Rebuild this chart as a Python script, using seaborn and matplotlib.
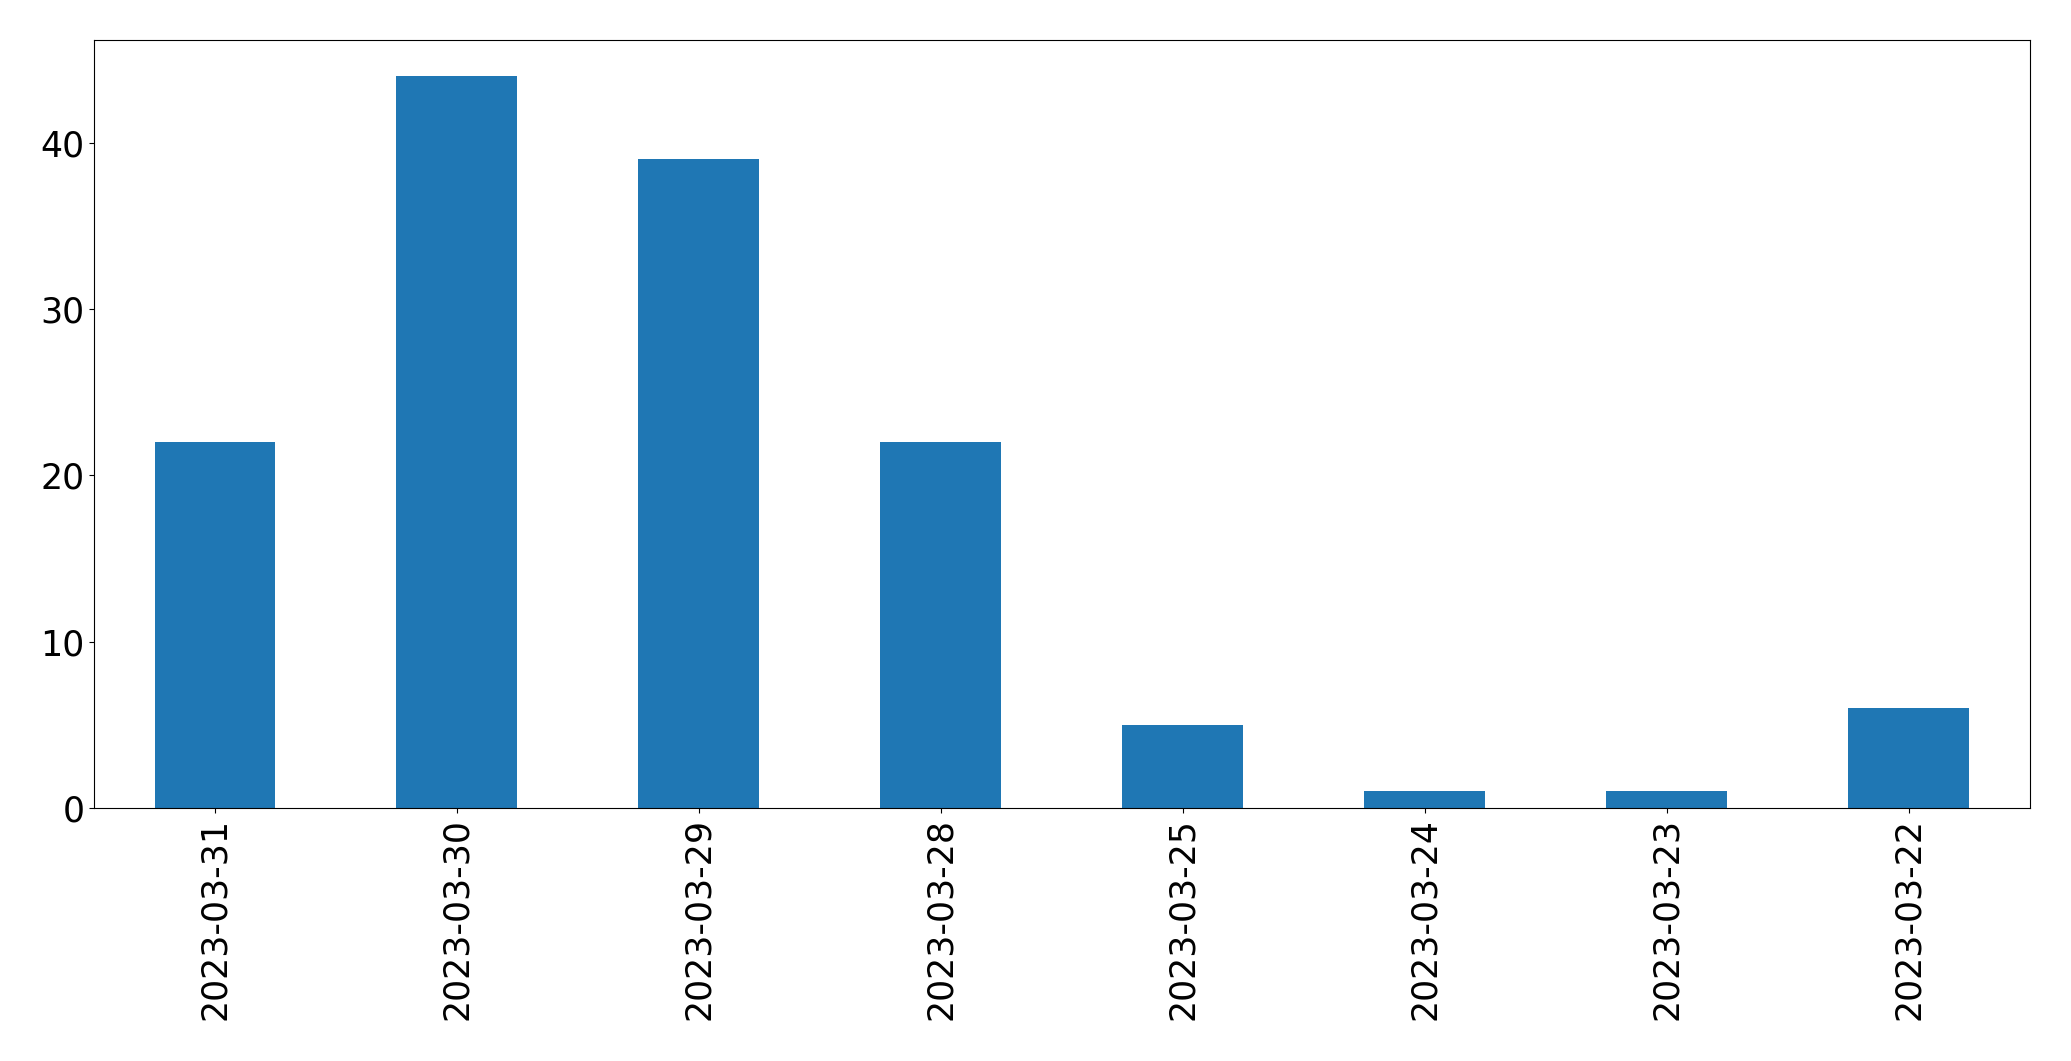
import matplotlib
matplotlib.use("Agg")
import matplotlib.pyplot as plt
import seaborn as sns

# --- data ---
dates = ["2023-03-31", "2023-03-30", "2023-03-29", "2023-03-28",
         "2023-03-25", "2023-03-24", "2023-03-23", "2023-03-22"]
counts = [22, 44, 39, 22, 5, 1, 1, 6]

fig, ax = plt.subplots(figsize=(20.71, 10.61), dpi=100)
fig.subplots_adjust(left=0.0454, right=0.980, top=0.9627, bottom=0.2385)

sns.barplot(x=dates, y=counts, ax=ax, color="#1f77b4", saturation=1,
            width=0.5, order=dates, linewidth=0)

ax.set_xlim(-0.5, len(dates) - 0.5)
ax.set_yticks([0, 10, 20, 30, 40])
ax.tick_params(axis="both", labelsize=25)
ax.tick_params(axis="x", labelrotation=90)
ax.set_xlabel("")
ax.set_ylabel("")

fig.savefig("out.png", dpi=100)
